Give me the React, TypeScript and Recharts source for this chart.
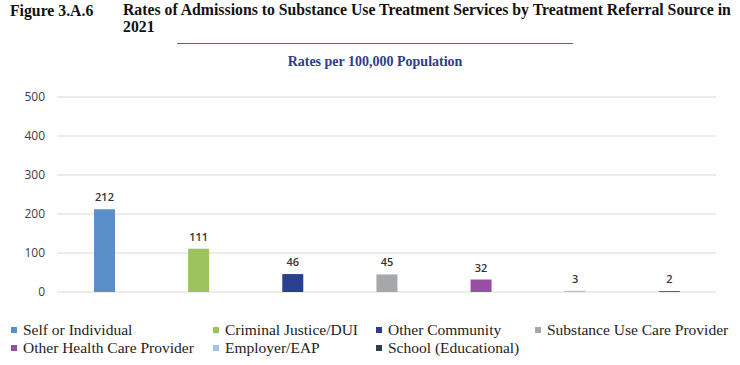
import { BarChart, Bar, XAxis, YAxis, CartesianGrid, Cell, LabelList } from 'recharts';

const categories = [
    'Self or Individual',
    'Criminal Justice/DUI',
    'Other Community',
    'Substance Use Care Provider',
    'Other Health Care Provider',
    'Employer/EAP',
    'School (Educational)',
];
const rates = [212, 111, 46, 45, 32, 3, 2];
const barColors = ['#5B8FC9', '#9DC35E', '#2A3F8F', '#A5A7AA', '#9A4DA6', '#9DC3E6', '#2E3F55'];
const yTicks = [0, 100, 200, 300, 400, 500];

// legend rows as in the report layout
const legendRows = [
    [0, 1, 2, 3],
    [4, 5, 6],
];
const legendCols = [11, 213, 376, 535];

const serif = '"Liberation Serif", "Times New Roman", serif';
const sans = '"Open Sans", "Liberation Sans", Arial, sans-serif';

export default function App() {
    const data = categories.map((name, i) => ({ name, value: rates[i] }));

    return (
        <div style={{ position: 'absolute', left: 0, top: 0, width: 740, height: 365, background: '#fff', fontFamily: serif }}>
            <div style={{ position: 'absolute', left: 10, top: 2, fontSize: 15.75, fontWeight: 700, color: '#111', whiteSpace: 'nowrap', lineHeight: '17px' }}>
                Figure 3.A.6
            </div>
            <div style={{ position: 'absolute', left: 123, top: 2, fontSize: 15.75, fontWeight: 700, color: '#111', whiteSpace: 'nowrap', lineHeight: '16.5px' }}>
                Rates of Admissions to Substance Use Treatment Services by Treatment Referral Source in
                <br />
                2021
            </div>
            <div style={{ position: 'absolute', left: 177, top: 43, width: 396, height: 1, background: '#4F62B0' }} />
            <div style={{ position: 'absolute', left: 0, width: 750, top: 54, lineHeight: '16px', textAlign: 'center', fontSize: 14, fontWeight: 700, color: '#2E3C8C' }}>
                Rates per 100,000 Population
            </div>

            <div style={{ position: 'absolute', left: 0, top: 0 }}>
                <BarChart width={740} height={365} data={data} margin={{ top: 97, right: 24, bottom: 73, left: 12 }}>
                    <CartesianGrid vertical={false} stroke="#D9D9D9" strokeWidth={1.2} />
                    <XAxis dataKey="name" hide />
                    <YAxis
                        domain={[0, 500]}
                        ticks={yTicks}
                        width={45}
                        axisLine={false}
                        tickLine={false}
                        tickMargin={6}
                        tick={{ fill: '#404040', fontSize: 12, fontFamily: sans }}
                    />
                    <Bar dataKey="value" barSize={21} isAnimationActive={false}>
                        {data.map((d, i) => (
                            <Cell key={d.name} fill={barColors[i]} />
                        ))}
                        <LabelList dataKey="value" position="top" offset={8} fill="#333" fontSize={11} fontFamily={sans} fontWeight={600} />
                    </Bar>
                </BarChart>
            </div>

            {legendRows.map((row, r) => (
                row.map((idx, c) => (
                    <div
                        key={categories[idx]}
                        style={{
                            position: 'absolute',
                            left: legendCols[c],
                            top: 321 + r * 17.5,
                            fontSize: 15.5,
                            lineHeight: '18px',
                            color: '#222',
                            whiteSpace: 'nowrap',
                            display: 'flex',
                            alignItems: 'center',
                        }}
                    >
                        <span style={{ display: 'inline-block', width: 6, height: 6, background: barColors[idx], marginRight: 6 }} />
                        {categories[idx]}
                    </div>
                ))
            ))}
        </div>
    );
}
